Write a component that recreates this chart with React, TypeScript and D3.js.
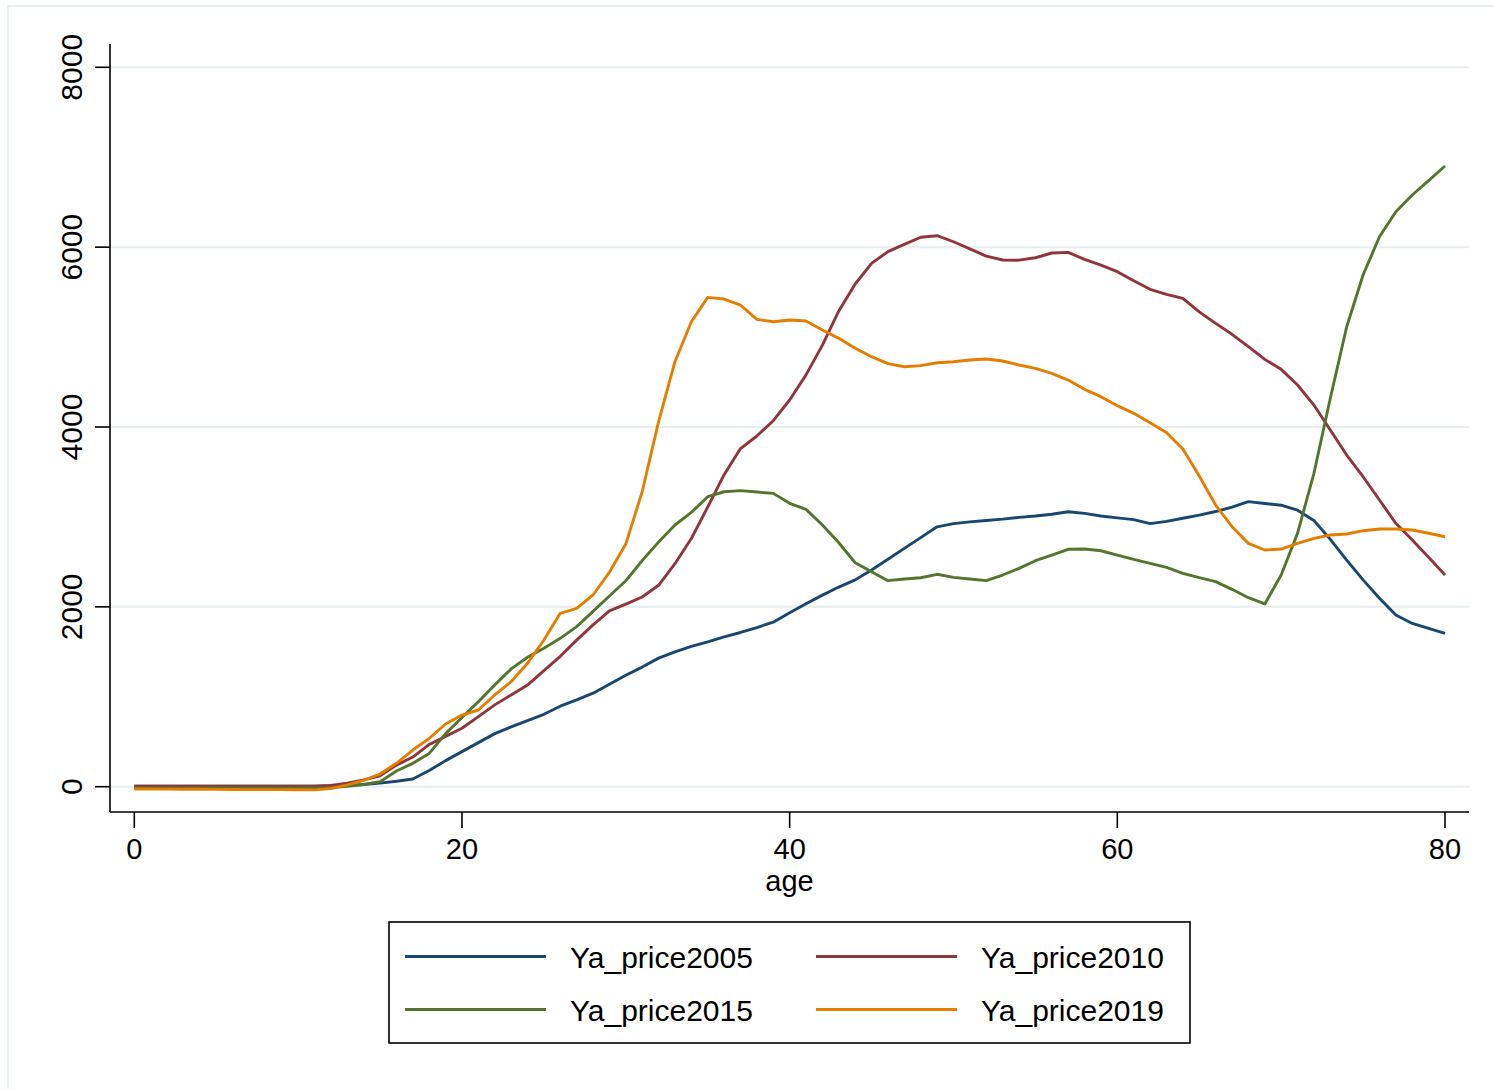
import React from "react";
import * as d3 from "d3";

// Age profile of Ya_price by survey year
const ages: number[] = d3.range(0, 81);

const price2005: number[] = [
  5, 5, 5, 5, 5, 5, 5, 5, 5, 5, 5, 5,
  8, 15, 25, 40, 60, 85, 180, 290, 390, 490,
  590, 665, 735, 805, 895, 965, 1040, 1140, 1240, 1330,
  1430, 1500, 1560, 1610, 1665, 1715, 1770, 1830, 1935, 2035,
  2130, 2220, 2300, 2410, 2530, 2650, 2770, 2890, 2925, 2945,
  2960, 2975, 2995, 3010, 3030, 3058, 3040, 3010, 2990, 2970,
  2925, 2950, 2985, 3020, 3060, 3110, 3170, 3150, 3130, 3075,
  2960, 2750, 2520, 2300, 2095, 1910, 1815, 1760, 1705,
];

const price2010: number[] = [
  5, 5, 5, 5, 5, 5, 5, 5, 5, 5, 5, 5,
  15, 40, 75, 120, 240, 330, 470, 560, 650, 780,
  910, 1020, 1130, 1290, 1450, 1630, 1800, 1955, 2030, 2110,
  2240, 2480, 2760, 3110, 3470, 3760, 3900, 4070, 4300, 4580,
  4910, 5290, 5590, 5820, 5950, 6030, 6110, 6127, 6060, 5980,
  5900, 5857, 5855, 5882, 5935, 5942, 5864, 5800, 5727, 5627,
  5531, 5475, 5430, 5280, 5153, 5031, 4893, 4752, 4641, 4467,
  4244, 3966, 3688, 3447, 3188, 2929, 2743, 2551, 2354,
];

const price2015: number[] = [
  -15, -15, -15, -15, -15, -15, -15, -15, -15, -15, -15, -15,
  -10, 5, 25, 56, 175, 260, 370, 590, 770, 945,
  1130, 1310, 1440, 1540, 1650, 1780, 1950, 2120, 2290, 2515,
  2720, 2910, 3050, 3225, 3280, 3292, 3277, 3262, 3151, 3084,
  2910, 2713, 2490, 2391, 2291, 2310, 2324, 2362, 2328, 2310,
  2291, 2354, 2428, 2513, 2576, 2640, 2643, 2624, 2576, 2528,
  2484, 2439, 2373, 2324, 2280, 2195, 2102, 2032, 2354, 2818,
  3485, 4319, 5115, 5690, 6116, 6394, 6580, 6739, 6902,
];

const price2019: number[] = [
  -25, -26, -27, -28, -29, -30, -31, -32, -33, -33, -34, -35,
  -20, 20, 70, 141, 260, 408, 538, 697, 797, 853,
  1020, 1168, 1372, 1631, 1928, 1984, 2132, 2385, 2700, 3280,
  4059, 4726, 5171, 5442, 5423, 5356, 5197, 5171, 5190, 5179,
  5078, 4986, 4875, 4782, 4705, 4670, 4682, 4715, 4726, 4745,
  4756, 4734, 4689, 4652, 4597, 4522, 4419, 4337, 4237, 4152,
  4048, 3940, 3755, 3455, 3132, 2891, 2706, 2632, 2643, 2706,
  2762, 2799, 2810, 2847, 2866, 2866, 2855, 2818, 2780,
];

const seriesNames: string[] = ["Ya_price2005", "Ya_price2010", "Ya_price2015", "Ya_price2019"];
const seriesColors: string[] = ["#1a476f", "#90353b", "#55752f", "#e37e00"];
const seriesValues: number[][] = [price2005, price2010, price2015, price2019];

const xTicks: number[] = [0, 20, 40, 60, 80];
const yTicks: number[] = [0, 2000, 4000, 6000, 8000];
const xTitle = "age";

const W = 1494;
const H = 1089;
const plot = { left: 110, right: 1469, top: 44, bottom: 812 };
const FONT = "'Liberation Sans', Arial, Helvetica, sans-serif";

export default function App() {
  const x = d3.scaleLinear().domain([0, 80]).range([134.3, 1445]);
  const y = d3.scaleLinear().domain([0, 8000]).range([786.7, 67.3]);

  const line = d3
    .line<number>()
    .x((_, i) => x(ages[i]))
    .y((v) => y(v));

  const legend = { x: 389, y: 922, w: 801, h: 121 };
  const legendItems = seriesNames.map((name, i) => ({
    name,
    color: seriesColors[i],
    col: i % 2,
    row: Math.floor(i / 2),
  }));

  return (
    <svg
      width={W}
      height={H}
      style={{ position: "absolute", left: 0, top: 0, background: "#fff" }}
      fontFamily={FONT}
    >
      <rect x={0} y={0} width={W} height={H} fill="#fff" />
      <rect x={8} y={6} width={W} height={H} fill="none" stroke="#e9f0f2" strokeWidth={2} />

      {/* horizontal gridlines */}
      {yTicks.map((t) => (
        <line
          key={`g${t}`}
          x1={plot.left}
          x2={plot.right}
          y1={y(t)}
          y2={y(t)}
          stroke="#e6eef0"
          strokeWidth={2}
        />
      ))}

      {/* series */}
      {seriesValues.map((vals, i) => (
        <path
          key={seriesNames[i]}
          d={line(vals) || ""}
          fill="none"
          stroke={seriesColors[i]}
          strokeWidth={2.9}
          strokeLinejoin="round"
        />
      ))}

      {/* axes */}
      <line x1={plot.left} x2={plot.left} y1={plot.top} y2={plot.bottom} stroke="#000" strokeWidth={1.6} />
      <line x1={plot.left} x2={plot.right} y1={plot.bottom} y2={plot.bottom} stroke="#000" strokeWidth={1.6} />

      {yTicks.map((t) => (
        <g key={`y${t}`}>
          <line x1={95} x2={plot.left} y1={y(t)} y2={y(t)} stroke="#000" strokeWidth={1.6} />
          <text
            transform={`translate(82,${y(t)}) rotate(-90)`}
            textAnchor="middle"
            fontSize={30}
            fill="#000"
          >
            {t}
          </text>
        </g>
      ))}

      {xTicks.map((t) => (
        <g key={`x${t}`}>
          <line x1={x(t)} x2={x(t)} y1={plot.bottom} y2={828} stroke="#000" strokeWidth={1.6} />
          <text x={x(t)} y={859} textAnchor="middle" fontSize={29} fill="#000">
            {t}
          </text>
        </g>
      ))}

      <text x={(plot.left + plot.right) / 2} y={891} textAnchor="middle" fontSize={29} fill="#000">
        {xTitle}
      </text>

      {/* legend */}
      <rect
        x={legend.x}
        y={legend.y}
        width={legend.w}
        height={legend.h}
        fill="#fff"
        stroke="#000"
        strokeWidth={1.6}
      />
      {legendItems.map((it) => {
        const lx = it.col === 0 ? 405 : 816;
        const ly = it.row === 0 ? 956.5 : 1009.5;
        return (
          <g key={it.name}>
            <line x1={lx} x2={lx + 141} y1={ly} y2={ly} stroke={it.color} strokeWidth={2.9} />
            <text x={lx + 165} y={ly + 11} fontSize={30} fill="#000">
              {it.name}
            </text>
          </g>
        );
      })}
    </svg>
  );
}
